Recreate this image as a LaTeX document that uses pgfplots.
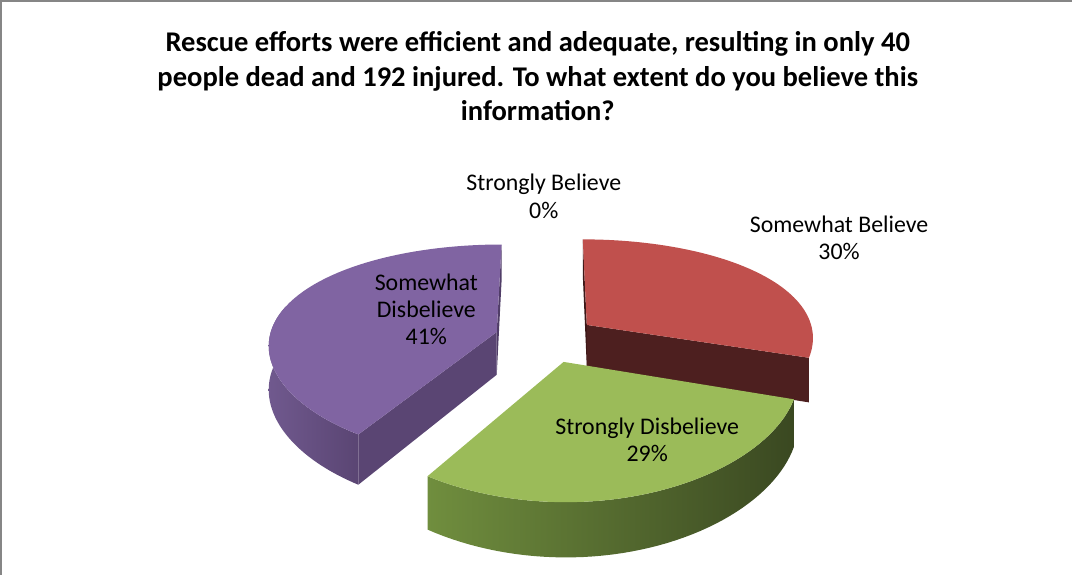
\documentclass[border=0pt]{standalone}
\usepackage{pgfplots}
\pgfplotsset{compat=1.18}
\usepackage{pgfplotstable}
\usepackage{fontspec}
\setmainfont{Carlito}

\definecolor{redTop}{RGB}{192,80,77}
\definecolor{redSide}{RGB}{77,31,31}
\definecolor{redEdge}{RGB}{60,24,24}
\definecolor{greenTop}{RGB}{155,187,89}
\definecolor{greenSideL}{RGB}{112,142,62}
\definecolor{greenSideR}{RGB}{58,72,33}
\definecolor{purpleTop}{RGB}{128,100,162}
\definecolor{purpleSide}{RGB}{90,69,115}
\definecolor{purpleSideL}{RGB}{112,89,142}
\definecolor{purpleEdge}{RGB}{80,61,103}
\definecolor{frameGray}{RGB}{134,134,134}

% share of answers, in %
\pgfplotstableread{
answer value
SB 0
WB 30
SD 29
WD 41
}\piedata

\pgfplotstablegetelem{0}{value}\of\piedata\let\vA\pgfplotsretval
\pgfplotstablegetelem{1}{value}\of\piedata\let\vB\pgfplotsretval
\pgfplotstablegetelem{2}{value}\of\piedata\let\vC\pgfplotsretval
\pgfplotstablegetelem{3}{value}\of\piedata\let\vD\pgfplotsretval

% slice borders, clockwise from 12 o'clock
\pgfmathsetmacro\aB{90-3.6*\vA}
\pgfmathsetmacro\aC{\aB-3.6*\vB}
\pgfmathsetmacro\aD{\aC-3.6*\vC}
\pgfmathsetmacro\aE{\aD-3.6*\vD}
% explode offsets (ground plane, in radii)
\pgfmathsetmacro\euB{0.226*cos((\aB+\aC)/2)}
\pgfmathsetmacro\evB{0.226*sin((\aB+\aC)/2)}
\pgfmathsetmacro\euC{0.226*cos((\aC+\aD)/2)}
\pgfmathsetmacro\evC{0.226*sin((\aC+\aD)/2)}
\pgfmathsetmacro\euD{0.226*cos((\aD+\aE)/2)}
\pgfmathsetmacro\evD{0.226*sin((\aD+\aE)/2)}

% ground plane -> axis units, with a little perspective
\pgfmathdeclarefunction{PX}{2}{\pgfmathparse{549+226.6*(#1)/(1+0.11*(#2))}}
\pgfmathdeclarefunction{PY}{2}{\pgfmathparse{235.3+105*(#2)/(1+0.18*(#2))}}
\pgfmathdeclarefunction{PB}{2}{\pgfmathparse{235.3+(105*(#2)-43)/(1+0.18*(#2))}}

\newcommand\topface[5]{%
  \path[#1] ({PX(#2,#3)},{PY(#2,#3)}) --
    plot[domain=#4:#5, samples=60, variable=\ang]
      ({PX(#2+cos(\ang),#3+sin(\ang))},{PY(#2+cos(\ang),#3+sin(\ang))}) -- cycle;}
\newcommand\wall[5]{%
  \path[#1]
    plot[domain=#4:#5, samples=50, variable=\ang]
      ({PX(#2+cos(\ang),#3+sin(\ang))},{PY(#2+cos(\ang),#3+sin(\ang))}) --
    plot[domain=#5:#4, samples=50, variable=\ang]
      ({PX(#2+cos(\ang),#3+sin(\ang))},{PB(#2+cos(\ang),#3+sin(\ang))}) -- cycle;}
\newcommand\radial[4]{%
  \path[#1] ({PX(#2,#3)},{PY(#2,#3)}) --
    ({PX(#2+cos(#4),#3+sin(#4))},{PY(#2+cos(#4),#3+sin(#4))}) --
    ({PX(#2+cos(#4),#3+sin(#4))},{PB(#2+cos(#4),#3+sin(#4))}) --
    ({PX(#2,#3)},{PB(#2,#3)}) -- cycle;}

\begin{document}
\begin{tikzpicture}
\begin{axis}[
    scale only axis,
    width=804.75pt, height=433.5pt,
    xmin=0, xmax=1073, ymin=0, ymax=578,
    hide axis, clip=false,
  ]
  % chart frame (cut at right and bottom)
  \draw[frameGray, line width=1.4pt] (6.5,0) -- (6.5,571.5) -- (1073,571.5);

  % Somewhat Disbelieve
  \radial{fill=purpleEdge}{\euD}{\evD}{\aE}
  \wall{left color=purpleSideL, right color=purpleSide}{\euD}{\evD}{-195}{\aD}
  \radial{fill=purpleSide}{\euD}{\evD}{\aD}
  \topface{fill=purpleTop}{\euD}{\evD}{\aE}{\aD}

  % Somewhat Believe
  \radial{fill=redEdge}{\euB}{\evB}{\aB}
  \radial{fill=redSide}{\euB}{\evB}{\aC}
  \topface{fill=redTop}{\euB}{\evB}{\aC}{\aB}

  % Strongly Disbelieve
  \wall{left color=greenSideL, right color=greenSideR}{\euC}{\evC}{\aD}{\aC}
  \topface{fill=greenTop}{\euC}{\evC}{\aD}{\aC}

  % title
  \node[align=center, font=\fontsize{21.3}{26}\selectfont\bfseries] at (541,496.5)
    {Rescue efforts were efficient and adequate, resulting in only 40\\
     people dead and 192 injured. To what extent do you believe this\\
     information?};

  % data labels
  \begin{scope}[every node/.style={align=center, font=\fontsize{17.8}{20.3}\selectfont}]
    \node at (547,377) {Strongly Believe\\0\%};
    \node at (841,335.5) {Somewhat Believe\\30\%};
    \node at (430,264.5) {Somewhat\\Disbelieve\\41\%};
    \node at (650,134.5) {Strongly Disbelieve\\29\%};
  \end{scope}
\end{axis}
\end{tikzpicture}
\end{document}
